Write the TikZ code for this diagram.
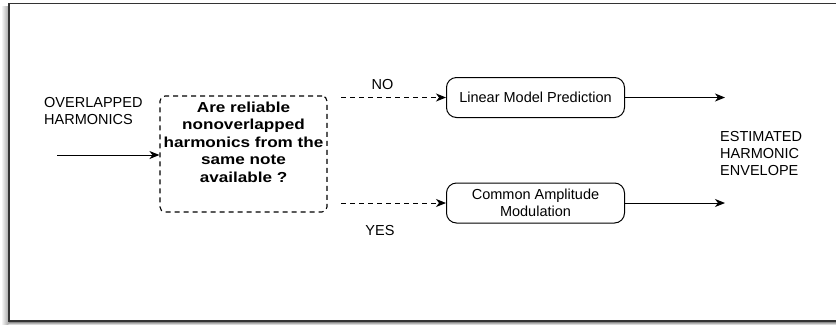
\documentclass[tikz,border=0pt]{standalone}
\usepackage{fontspec}
\setmainfont{Liberation Sans}
\newfontfamily\qfont{Liberation Sans}[FakeStretch=1.18]
\usetikzlibrary{arrows.meta}
\tikzset{
  txt/.style={font=\fontsize{14.5}{17}\selectfont, inner sep=0pt},
  proc/.style={draw, line width=1pt, rounded corners=10pt, minimum width=178pt, minimum height=40pt, align=center, font=\fontsize{14.5}{16.5}\selectfont, inner sep=0pt},
  qbox/.style={draw, dash pattern=on 5pt off 4pt, line width=1.1pt, rounded corners=5pt, minimum width=167pt, minimum height=116pt, inner sep=0pt},
  arr/.style={line width=1pt, -{Stealth[length=10pt,width=8pt,inset=3pt]}},
  darr/.style={arr, dash pattern=on 5pt off 4pt},
}
\begin{document}
\begin{tikzpicture}[x=1pt,y=-1pt]
\useasboundingbox (0,0) rectangle (836,325);
% frame with shadow
\shade[left color=white, right color=black!35] (1,6) rectangle (8.5,324);
\shade[top color=black!45, bottom color=white] (9,322) rectangle (836,325);
\draw[line width=1.6pt, black!80] (9,322) -- (9,3.5) -- (836,3.5);
\draw[line width=2.6pt, black!80] (9,321) -- (836,321);

% nodes
\node[txt, align=left, anchor=west] (inlbl) at (44,111.5) {OVERLAPPED\\HARMONICS};
\node[qbox] (q) at (243.5,154) {};
\node[inner sep=0pt, align=center, font=\qfont\bfseries\fontsize{14.5}{17.5}\selectfont] (qtext) at (243.5,142)
  {Are reliable\\nonoverlapped\\harmonics from the\\same note\\available ?};
\node[proc] (lmp) at (535.5,97.5) {Linear Model Prediction};
\node[proc] (cam) at (535.5,203) {Common Amplitude\\Modulation};
\node[txt, align=left, anchor=west] (outlbl) at (720,154) {ESTIMATED\\HARMONIC\\ENVELOPE};
\node[txt] (nolbl) at (382.5,85) {NO};
\node[txt] (yeslbl) at (380,231) {YES};

% free ends
\coordinate (instart) at (57,155);
\coordinate (nostart) at (341,97.5);
\coordinate (yesstart) at (341,203);
\coordinate (lmpend) at (725,97.5);
\coordinate (camend) at (725,203);

% connectors
\draw[arr] (instart) -- (instart -| q.west);
\draw[darr] (nostart) -- (lmp.west);
\draw[darr] (yesstart) -- (cam.west);
\draw[arr] (lmp.east) -- (lmpend);
\draw[arr] (cam.east) -- (camend);
\end{tikzpicture}
\end{document}
